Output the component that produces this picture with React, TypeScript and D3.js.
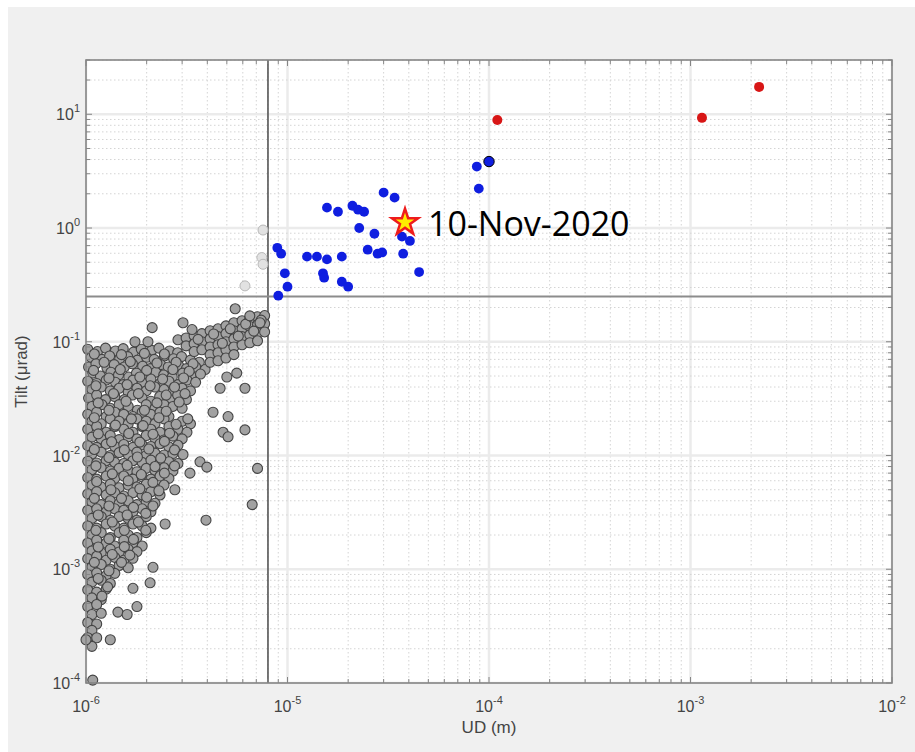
import React, { useRef, useEffect } from 'react'
import * as d3 from 'd3'

const W = 915
const H = 752

// thresholds
const udThreshold = 8e-6
const tiltThreshold = 0.25

// gray events below threshold, [UD in µm, tilt in µrad]
const grayCloud: [number, number][] = [
    [1.02, 0.086], [1.14, 0.082], [1.25, 0.088], [1.4, 0.083], [1.53, 0.087], [1.72, 0.081], [1.88, 0.086], [2.12, 0.084], [2.3, 0.088], [2.6, 0.083], [2.85, 0.08],
    [1.06, 0.073], [1.2, 0.07], [1.31, 0.075], [1.47, 0.071], [1.61, 0.074], [1.8, 0.069], [2.0, 0.073], [2.18, 0.07], [2.45, 0.075], [2.72, 0.071], [2.98, 0.074], [3.3, 0.069], [3.65, 0.066],
    [1.03, 0.06], [1.12, 0.064], [1.27, 0.059], [1.38, 0.063], [1.55, 0.06], [1.7, 0.064], [1.91, 0.061], [2.08, 0.058], [2.35, 0.063], [2.56, 0.06], [2.88, 0.062], [3.15, 0.058], [3.5, 0.06], [3.9, 0.057],
    [1.08, 0.053], [1.18, 0.05], [1.33, 0.054], [1.45, 0.051], [1.63, 0.049], [1.78, 0.053], [1.98, 0.05], [2.22, 0.054], [2.43, 0.051], [2.68, 0.049], [3.02, 0.053], [3.32, 0.05], [3.7, 0.052],
    [1.02, 0.045], [1.13, 0.043], [1.26, 0.046], [1.4, 0.044], [1.53, 0.042], [1.71, 0.046], [1.9, 0.044], [2.1, 0.047], [2.33, 0.043], [2.58, 0.045], [2.86, 0.042], [3.17, 0.046], [3.5, 0.044],
    [1.07, 0.038], [1.19, 0.04], [1.32, 0.037], [1.46, 0.039], [1.62, 0.036], [1.79, 0.039], [1.99, 0.037], [2.2, 0.04], [2.44, 0.038], [2.7, 0.036], [3.0, 0.039], [3.3, 0.037],
    [1.03, 0.032], [1.13, 0.034], [1.25, 0.031], [1.39, 0.033], [1.55, 0.031], [1.7, 0.034], [1.9, 0.032], [2.1, 0.03], [2.32, 0.033], [2.6, 0.031], [2.85, 0.034], [3.15, 0.031],
    [1.07, 0.027], [1.2, 0.028], [1.32, 0.026], [1.46, 0.028], [1.62, 0.027], [1.8, 0.025], [1.99, 0.028], [2.2, 0.026], [2.44, 0.028], [2.7, 0.027], [3.0, 0.026],
    [1.02, 0.023], [1.13, 0.024], [1.26, 0.022], [1.39, 0.024], [1.54, 0.023], [1.71, 0.022], [1.9, 0.024], [2.1, 0.023], [2.33, 0.024], [2.58, 0.022],
    [1.07, 0.02], [1.19, 0.019], [1.32, 0.021], [1.46, 0.02], [1.62, 0.019], [1.79, 0.021], [1.99, 0.02], [2.2, 0.019], [2.44, 0.021], [3.0, 0.02], [3.3, 0.019],
    [1.02, 0.017], [1.13, 0.018], [1.26, 0.016], [1.39, 0.018], [1.54, 0.017], [1.71, 0.016], [1.9, 0.018], [2.1, 0.017], [2.33, 0.016], [2.58, 0.018], [2.86, 0.017], [3.17, 0.016],
    [1.07, 0.0145], [1.19, 0.014], [1.32, 0.015], [1.46, 0.0138], [1.62, 0.0146], [1.79, 0.014], [1.99, 0.015], [2.2, 0.0142], [2.44, 0.0137], [2.7, 0.0148], [3.0, 0.014],
    [1.02, 0.0122], [1.13, 0.0118], [1.26, 0.0126], [1.39, 0.012], [1.54, 0.0125], [1.71, 0.0118], [1.9, 0.0124], [2.1, 0.012], [2.33, 0.0127], [2.58, 0.0119], [2.86, 0.0123],
    [1.07, 0.0103], [1.19, 0.0107], [1.32, 0.01], [1.46, 0.0106], [1.62, 0.0102], [1.79, 0.0107], [1.99, 0.01], [2.2, 0.0105], [2.44, 0.0101], [2.7, 0.0104],
    [1.02, 0.0089], [1.13, 0.0086], [1.26, 0.009], [1.39, 0.0087], [1.54, 0.0085], [1.71, 0.009], [1.9, 0.0087], [2.1, 0.0091], [2.33, 0.0086], [2.58, 0.0088], [2.86, 0.0085],
    [1.07, 0.0075], [1.19, 0.0078], [1.32, 0.0073], [1.46, 0.0077], [1.62, 0.0074], [1.79, 0.0072], [1.99, 0.0077], [2.2, 0.0074], [2.44, 0.0078], [2.7, 0.0073],
    [1.02, 0.0064], [1.13, 0.0062], [1.26, 0.0066], [1.39, 0.0063], [1.54, 0.0066], [1.71, 0.0062], [1.9, 0.0065], [2.1, 0.0062], [2.33, 0.0066], [2.58, 0.0063],
    [1.07, 0.0055], [1.19, 0.0053], [1.32, 0.0056], [1.46, 0.0052], [1.62, 0.0055], [1.79, 0.0053], [1.99, 0.0056], [2.2, 0.0052], [2.44, 0.0055],
    [1.02, 0.0046], [1.13, 0.0048], [1.26, 0.0045], [1.39, 0.0047], [1.54, 0.0044], [1.71, 0.0047], [1.9, 0.0045], [2.1, 0.0048], [2.33, 0.0045],
    [1.07, 0.0039], [1.19, 0.0037], [1.32, 0.004], [1.46, 0.0038], [1.62, 0.004], [1.79, 0.0037], [1.99, 0.0039], [2.2, 0.0038],
    [1.02, 0.0033], [1.13, 0.0034], [1.26, 0.0032], [1.39, 0.0034], [1.54, 0.0033], [1.71, 0.0032], [1.9, 0.0034], [2.1, 0.0032],
    [1.07, 0.0028], [1.19, 0.0029], [1.32, 0.0027], [1.46, 0.0029], [1.62, 0.0028], [1.79, 0.0027], [1.99, 0.0029],
    [1.02, 0.0024], [1.13, 0.0023], [1.26, 0.0025], [1.39, 0.0024], [1.54, 0.0023], [1.71, 0.0025], [1.9, 0.0024], [2.1, 0.0023],
    [1.07, 0.002], [1.19, 0.0021], [1.32, 0.0019], [1.46, 0.0021], [1.62, 0.002], [1.79, 0.0019], [1.99, 0.0021],
    [1.02, 0.0017], [1.13, 0.0018], [1.26, 0.0017], [1.39, 0.0016], [1.54, 0.0018], [1.71, 0.0017], [1.9, 0.0016],
    [1.07, 0.00145], [1.19, 0.0014], [1.32, 0.0015], [1.46, 0.00142], [1.62, 0.0015], [1.79, 0.00143],
    [1.02, 0.00124], [1.13, 0.0013], [1.26, 0.0012], [1.39, 0.00127], [1.54, 0.0012], [1.71, 0.00125],
    [1.07, 0.00105], [1.19, 0.0011], [1.32, 0.001], [1.46, 0.00108], [1.62, 0.00103],
    [1.02, 0.0009], [1.13, 0.00093], [1.26, 0.00088], [1.39, 0.00092],
    [1.07, 0.00077], [1.19, 0.0008], [1.32, 0.00075],
    [1.02, 0.00066], [1.13, 0.00063], [1.26, 0.00067],
    [1.07, 0.00056], [1.19, 0.00054],
    [1.02, 0.00047], [1.13, 0.00049],
    [1.07, 0.0004], [1.19, 0.00041],
    [1.02, 0.00034], [1.13, 0.00033],
    [1.07, 0.00029],
    [1.02, 0.00025], [1.13, 0.00025],
    [1.07, 0.00021],
    [1.0, 0.00024], [1.08, 0.000106],
]

// more gray events packed in between, same units
const grayCloudInner: [number, number][] = [
    [1.1, 0.078], [1.5, 0.077], [1.95, 0.079], [2.45, 0.078],
    [1.23, 0.066], [1.66, 0.067], [2.25, 0.065], [2.8, 0.066], [3.4, 0.064],
    [1.09, 0.056], [1.48, 0.057], [2.0, 0.056], [2.7, 0.057], [3.25, 0.055],
    [1.3, 0.048], [1.85, 0.049], [2.4, 0.047], [3.05, 0.048],
    [1.12, 0.041], [1.6, 0.042], [2.08, 0.041], [2.75, 0.04],
    [1.37, 0.035], [1.82, 0.035], [2.5, 0.034], [3.1, 0.035],
    [1.15, 0.029], [1.58, 0.03], [2.25, 0.029], [2.9, 0.0295],
    [1.3, 0.025], [1.95, 0.025], [2.5, 0.0245],
    [1.1, 0.0215], [1.68, 0.021], [2.3, 0.0215], [3.2, 0.021],
    [1.4, 0.0185], [1.92, 0.0183], [2.8, 0.0188],
    [1.15, 0.0155], [1.63, 0.0156], [2.15, 0.0154], [2.6, 0.0157],
    [1.34, 0.0132], [1.85, 0.0131], [2.45, 0.0133],
    [1.1, 0.0113], [1.55, 0.0112], [2.05, 0.0114], [2.75, 0.0112],
    [1.3, 0.0096], [1.8, 0.0097], [2.35, 0.0095],
    [1.12, 0.0081], [1.6, 0.0082], [2.2, 0.008], [2.75, 0.0081],
    [1.35, 0.0069], [1.88, 0.0068], [2.45, 0.007],
    [1.13, 0.0059], [1.62, 0.006], [2.15, 0.0058],
    [1.33, 0.005], [1.85, 0.0051], [2.3, 0.0049],
    [1.1, 0.0042], [1.5, 0.0042], [2.0, 0.0043],
    [1.3, 0.0036], [1.72, 0.0035], [2.15, 0.0036],
    [1.15, 0.003], [1.6, 0.003], [1.98, 0.0031],
    [1.35, 0.0026], [1.82, 0.0026],
    [1.12, 0.0022], [1.55, 0.0022], [1.98, 0.0022],
    [1.3, 0.00185], [1.72, 0.00183],
    [1.15, 0.00157], [1.55, 0.00158],
    [1.35, 0.00135], [1.65, 0.00133],
    [1.1, 0.00115], [1.5, 0.00115],
    [1.3, 0.00097], [1.15, 0.00083], [1.28, 0.0007],
]

// upper band of the gray cloud
const grayBand: [number, number][] = [
    [2.86, 0.104],
    [3.14, 0.108], [3.14, 0.092],
    [3.44, 0.113], [3.44, 0.096], [3.44, 0.082],
    [3.76, 0.118], [3.76, 0.1], [3.76, 0.085],
    [4.13, 0.125], [4.13, 0.106], [4.13, 0.09], [4.13, 0.077], [4.13, 0.066],
    [4.52, 0.13], [4.52, 0.111], [4.52, 0.094], [4.52, 0.08], [4.52, 0.068],
    [4.95, 0.138], [4.95, 0.118], [4.95, 0.1], [4.95, 0.085], [4.95, 0.072],
    [5.42, 0.147], [5.42, 0.125], [5.42, 0.106], [5.42, 0.09], [5.42, 0.077],
    [5.95, 0.153], [5.95, 0.13], [5.95, 0.111], [5.95, 0.094],
    [6.5, 0.16], [6.5, 0.136], [6.5, 0.115], [6.5, 0.098],
    [7.1, 0.166], [7.1, 0.141], [7.1, 0.12], [7.1, 0.102],
    [7.7, 0.17], [7.7, 0.144], [7.7, 0.122],
    [3.6, 0.105], [4.3, 0.117], [4.75, 0.097], [5.2, 0.13], [5.7, 0.112], [6.2, 0.143], [6.8, 0.124], [7.4, 0.155],
]

// scattered gray events
const grayOutliers: [number, number][] = [
    [2.13, 0.133], [1.75, 0.1], [2.03, 0.1], [3.03, 0.147], [3.36, 0.128], [5.5, 0.195], [7.3, 0.147], [6.5, 0.169],
    [5.0, 0.049], [5.6, 0.053], [6.15, 0.039], [4.63, 0.039], [4.27, 0.024], [5.07, 0.022], [4.79, 0.016], [5.07, 0.0146], [6.15, 0.0168],
    [3.03, 0.0102], [3.68, 0.0088], [3.98, 0.0079], [7.1, 0.0077], [3.28, 0.007], [2.76, 0.005], [6.68, 0.0037], [3.94, 0.0027], [2.47, 0.0025],
    [2.15, 0.00104], [2.08, 0.00076], [1.71, 0.00068], [1.2, 0.00058], [1.79, 0.00047], [1.44, 0.00042], [1.6, 0.0004], [1.32, 0.00024],
]

// faint gray events near the UD threshold
const grayFaint: [number, number][] = [
    [7.56, 0.96], [7.46, 0.55], [7.56, 0.48], [6.15, 0.31],
]

// blue events above both thresholds, [UD (m), tilt]
const bluePoints: [number, number][] = [
    [3.0e-5, 2.05], [3.4e-5, 1.85], [1.57e-5, 1.51], [1.78e-5, 1.39], [2.1e-5, 1.57], [2.24e-5, 1.45], [2.4e-5, 1.39],
    [2.27e-5, 1.0], [2.7e-5, 0.89], [8.9e-6, 0.67], [9.3e-6, 0.595], [1.25e-5, 0.56], [1.4e-5, 0.56], [1.57e-5, 0.53],
    [1.86e-5, 0.56], [2.5e-5, 0.645], [2.8e-5, 0.595], [2.95e-5, 0.61], [3.7e-5, 0.84], [4.05e-5, 0.77], [3.75e-5, 0.595],
    [4.5e-5, 0.41], [9.7e-6, 0.4], [1.5e-5, 0.4], [1.52e-5, 0.366], [1.0e-5, 0.305], [9.0e-6, 0.254], [1.86e-5, 0.337],
    [2.0e-5, 0.305], [8.7e-5, 3.47], [8.9e-5, 2.22],
]
const blueOutlined: [number, number][] = [[1.0e-4, 3.84]]

const redPoints: [number, number][] = [
    [1.1e-4, 8.9], [1.14e-3, 9.3], [2.19e-3, 17.4],
]

const starEvent: [number, number] = [3.83e-5, 1.12]
const starLabel = '10-Nov-2020'

const xTitle = 'UD (m)'
const yTitle = 'Tilt (μrad)'

export default function App() {
    const svgRef = useRef<SVGSVGElement>(null)

    useEffect(() => {
        if (!svgRef.current) return
        const svg = d3.select(svgRef.current)
        svg.selectAll('*').remove()

        svg.append('rect').attr('width', W).attr('height', H).attr('fill', '#ffffff')
        svg.append('rect').attr('x', 8).attr('y', 7).attr('width', W - 8).attr('height', H - 7).attr('fill', '#f0f0f0')

        const x = d3.scaleLog().domain([1e-6, 1e-2]).range([86, 892])
        const y = d3.scaleLog().domain([1e-4, 30]).range([683, 60])
        const [left, right] = x.range()
        const [bottom, top] = y.range()

        svg.append('rect')
            .attr('x', left).attr('y', top)
            .attr('width', right - left).attr('height', bottom - top)
            .attr('fill', '#ffffff')

        const isMajor = (v: number) => Math.abs(Math.log10(v) - Math.round(Math.log10(v))) < 1e-6
        const xTicks = x.ticks()
        const yTicks = y.ticks()

        // grid
        const grid = svg.append('g')
        grid.selectAll('line.xg').data(xTicks).join('line')
            .attr('x1', (d) => x(d)).attr('x2', (d) => x(d))
            .attr('y1', top).attr('y2', bottom)
            .attr('stroke', (d) => (isMajor(d) ? '#ebebeb' : '#d4d4d4'))
            .attr('stroke-width', (d) => (isMajor(d) ? 2.5 : 1))
            .attr('stroke-dasharray', (d) => (isMajor(d) ? null : '1.5,2.5'))
        grid.selectAll('line.yg').data(yTicks).join('line')
            .attr('x1', left).attr('x2', right)
            .attr('y1', (d) => y(d)).attr('y2', (d) => y(d))
            .attr('stroke', (d) => (isMajor(d) ? '#ebebeb' : '#d4d4d4'))
            .attr('stroke-width', (d) => (isMajor(d) ? 2.5 : 1))
            .attr('stroke-dasharray', (d) => (isMajor(d) ? null : '1.5,2.5'))

        // threshold lines
        svg.append('line')
            .attr('x1', x(udThreshold)).attr('x2', x(udThreshold))
            .attr('y1', top).attr('y2', bottom)
            .attr('stroke', '#555555').attr('stroke-width', 1.6)
        svg.append('line')
            .attr('x1', left).attr('x2', right)
            .attr('y1', y(tiltThreshold)).attr('y2', y(tiltThreshold))
            .attr('stroke', '#8c8c8c').attr('stroke-width', 2)

        // gray events
        const grayAll = [...grayCloud, ...grayCloudInner, ...grayBand, ...grayOutliers]
        svg.append('g').selectAll('circle').data(grayFaint).join('circle')
            .attr('cx', (d) => x(d[0] * 1e-6)).attr('cy', (d) => y(d[1]))
            .attr('r', 5)
            .attr('fill', '#e2e2e2').attr('stroke', '#b8b8b8').attr('stroke-width', 1)
        svg.append('g').selectAll('circle').data(grayAll).join('circle')
            .attr('cx', (d) => x(d[0] * 1e-6)).attr('cy', (d) => y(d[1]))
            .attr('r', 5)
            .attr('fill', '#a2a2a2').attr('stroke', '#444444').attr('stroke-width', 1.1)

        // blue and red events
        svg.append('g').selectAll('circle').data(bluePoints).join('circle')
            .attr('cx', (d) => x(d[0])).attr('cy', (d) => y(d[1]))
            .attr('r', 4.9).attr('fill', '#0f1ee0')
        svg.append('g').selectAll('circle').data(blueOutlined).join('circle')
            .attr('cx', (d) => x(d[0])).attr('cy', (d) => y(d[1]))
            .attr('r', 5.2).attr('fill', '#0f1ee0').attr('stroke', '#000').attr('stroke-width', 1)
        svg.append('g').selectAll('circle').data(redPoints).join('circle')
            .attr('cx', (d) => x(d[0])).attr('cy', (d) => y(d[1]))
            .attr('r', 5).attr('fill', '#d81616')

        // highlighted event
        const sx = x(starEvent[0])
        const sy = y(starEvent[1])
        svg.append('path')
            .attr('d', d3.symbol().type(d3.symbolStar).size(215)())
            .attr('transform', `translate(${sx},${sy})`)
            .attr('fill', '#ffee00').attr('stroke', '#ee1c1c').attr('stroke-width', 2.5)
            .attr('stroke-linejoin', 'miter')
        svg.append('text')
            .attr('x', sx + 23).attr('y', sy + 1)
            .attr('dominant-baseline', 'central')
            .style('font-family', '"Open Sans", sans-serif')
            .style('font-size', '34px')
            .attr('fill', '#000')
            .text(starLabel)

        // axes box + ticks
        const axes = svg.append('g')
        axes.append('rect')
            .attr('x', left).attr('y', top)
            .attr('width', right - left).attr('height', bottom - top)
            .attr('fill', 'none').attr('stroke', '#858585').attr('stroke-width', 1.6)
        const tl = (d: number) => (isMajor(d) ? 6 : 4)
        axes.selectAll('line.xb').data(xTicks).join('line')
            .attr('x1', (d) => x(d)).attr('x2', (d) => x(d))
            .attr('y1', bottom).attr('y2', (d) => bottom - tl(d))
            .attr('stroke', '#858585').attr('stroke-width', 1)
        axes.selectAll('line.xt').data(xTicks).join('line')
            .attr('x1', (d) => x(d)).attr('x2', (d) => x(d))
            .attr('y1', top).attr('y2', (d) => top + tl(d))
            .attr('stroke', '#858585').attr('stroke-width', 1)
        axes.selectAll('line.yl').data(yTicks).join('line')
            .attr('x1', left).attr('x2', (d) => left + tl(d))
            .attr('y1', (d) => y(d)).attr('y2', (d) => y(d))
            .attr('stroke', '#858585').attr('stroke-width', 1)
        axes.selectAll('line.yr').data(yTicks).join('line')
            .attr('x1', right).attr('x2', (d) => right - tl(d))
            .attr('y1', (d) => y(d)).attr('y2', (d) => y(d))
            .attr('stroke', '#858585').attr('stroke-width', 1)

        // tick labels
        const labelFont = '"Liberation Sans", Arial, sans-serif'
        const xLabels = axes.selectAll('text.xl').data(xTicks.filter(isMajor)).join('text')
            .attr('x', (d) => x(d)).attr('y', bottom + 29)
            .attr('text-anchor', 'middle')
            .style('font-family', labelFont).style('font-size', '16px')
            .attr('fill', '#444')
        xLabels.append('tspan').text('10')
        xLabels.append('tspan').attr('dy', -8).style('font-size', '11px')
            .text((d) => String(Math.round(Math.log10(d))))

        const yLabels = axes.selectAll('text.yl').data(yTicks.filter(isMajor)).join('text')
            .attr('x', left - 6).attr('y', (d) => y(d) + 6)
            .attr('text-anchor', 'end')
            .style('font-family', labelFont).style('font-size', '16px')
            .attr('fill', '#444')
        yLabels.append('tspan').text('10')
        yLabels.append('tspan').attr('dy', -8).style('font-size', '11px')
            .text((d) => String(Math.round(Math.log10(d))))

        // axis titles
        axes.append('text')
            .attr('x', (left + right) / 2).attr('y', bottom + 50)
            .attr('text-anchor', 'middle')
            .style('font-family', labelFont).style('font-size', '17px')
            .attr('fill', '#444')
            .text(xTitle)
        axes.append('text')
            .attr('transform', `translate(27,${(top + bottom) / 2}) rotate(-90)`)
            .attr('text-anchor', 'middle')
            .style('font-family', labelFont).style('font-size', '17px')
            .attr('fill', '#444')
            .text(yTitle)
    }, [])

    return (
        <div style={{ position: 'absolute', left: 0, top: 0, width: W, height: H }}>
            <svg ref={svgRef} width={W} height={H} style={{ display: 'block' }} />
        </div>
    )
}
